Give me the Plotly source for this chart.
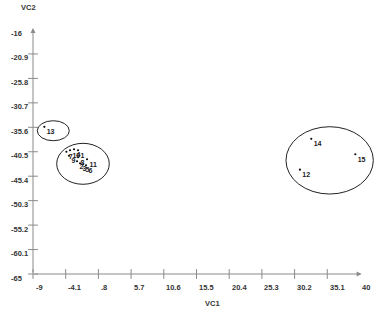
import plotly.graph_objects as go

# ---- data ----
point_labels = ["1", "2", "3", "4", "5", "6", "7", "8", "9", "10", "11", "12", "13", "14", "15"]
vc1 = [-2.25, -2.4, -1.95, -2.85, -1.5, -1.05, -4.0, -2.25, -3.6, -3.45, -0.9, 31.0, -7.3, 32.7, 39.3]
vc2 = [-40.2, -42.4, -42.8, -40.0, -43.0, -43.2, -40.5, -41.6, -41.3, -40.2, -42.0, -44.1, -35.5, -37.9, -41.0]

x_ticks = [-9, -4.1, 0.8, 5.7, 10.6, 15.5, 20.4, 25.3, 30.2, 35.1, 40]
x_tick_text = ["-9", "-4.1", ".8", "5.7", "10.6", "15.5", "20.4", "25.3", "30.2", "35.1", "40"]
y_ticks = [-16, -20.9, -25.8, -30.7, -35.6, -40.5, -45.4, -50.3, -55.2, -60.1, -65]
y_tick_text = ["-16", "-20.9", "-25.8", "-30.7", "-35.6", "-40.5", "-45.4", "-50.3", "-55.2", "-60.1", "-65"]

# cluster ellipses: (x0, x1, y0, y1)
ell_x0 = [-8.36, -5.45, 28.91]
ell_x1 = [-3.56, 2.43, 42.0]
ell_y0 = [-38.29, -47.02, -48.97]
ell_y1 = [-34.28, -38.81, -35.48]

FONT = "Liberation Sans, Arial, sans-serif"
TXT = "#333333"
AX = "#8a8a8a"

xmin, xmax = -9, 42.70
ymin, ymax = -65, -12.09

fig = go.Figure()

# tick marks crossing the axes
fig.add_trace(go.Scatter(x=x_ticks[:-1], y=[ymin] * (len(x_ticks) - 1), mode="markers",
                         marker=dict(symbol="line-ns-open", size=7, color=AX, line=dict(width=1, color=AX)),
                         hoverinfo="skip", showlegend=False, cliponaxis=False))
fig.add_trace(go.Scatter(x=[xmin] * (len(y_ticks) - 1), y=y_ticks[1:], mode="markers",
                         marker=dict(symbol="line-ew-open", size=7, color=AX, line=dict(width=1, color=AX)),
                         hoverinfo="skip", showlegend=False, cliponaxis=False))

# points
fig.add_trace(go.Scatter(x=vc1, y=vc2, mode="markers+text", text=point_labels,
                         textposition="bottom right",
                         textfont=dict(family=FONT, size=7, color="#222", weight="bold"),
                         marker=dict(size=2.2, color="#111"),
                         showlegend=False, cliponaxis=False))

shapes = []
for a, b, c, d in zip(ell_x0, ell_x1, ell_y0, ell_y1):
    shapes.append(dict(type="circle", xref="x", yref="y", x0=a, x1=b, y0=c, y1=d,
                       line=dict(color="#222", width=1)))

annotations = []
# axes with arrowheads
annotations.append(dict(x=x_ticks[-1] + 0.25, y=ymin, ax=xmin, ay=ymin, xref="x", yref="y",
                        axref="x", ayref="y", showarrow=True, arrowhead=2, arrowsize=1,
                        arrowwidth=1, arrowcolor=AX, text=""))
annotations.append(dict(x=xmin, y=y_ticks[0] + 0.3, ax=xmin, ay=ymin, xref="x", yref="y",
                        axref="x", ayref="y", showarrow=True, arrowhead=2, arrowsize=1,
                        arrowwidth=1, arrowcolor=AX, text=""))
# tick labels
for v, t in zip(x_ticks, x_tick_text):
    annotations.append(dict(x=v, y=ymin, xref="x", yref="y", text=t, showarrow=False,
                            xanchor="left", yanchor="middle", xshift=0.5, yshift=-13,
                            font=dict(family=FONT, size=7.5, color=TXT, weight="bold")))
for v, t in zip(y_ticks, y_tick_text):
    annotations.append(dict(x=-0.0696, y=v, xref="paper", yref="y", text=t, showarrow=False,
                            xanchor="left", yanchor="middle", yshift=-4,
                            font=dict(family=FONT, size=7.5, color=TXT, weight="bold")))
# axis titles
annotations.append(dict(x=(212 - 33) / 345, y=-0.11, xref="paper", yref="paper", text="VC1",
                        showarrow=False, xanchor="center", yanchor="middle",
                        font=dict(family=FONT, size=7.5, color=TXT, weight="bold")))
annotations.append(dict(x=-0.012, y=1.01, xref="paper", yref="paper", text="VC2",
                        showarrow=False, xanchor="center", yanchor="middle",
                        font=dict(family=FONT, size=7.5, color=TXT, weight="bold")))

fig.update_layout(
    width=380, height=309, autosize=False,
    margin=dict(l=33, r=2, t=10, b=35),
    paper_bgcolor="white", plot_bgcolor="white",
    xaxis=dict(range=[xmin, xmax], showgrid=False, zeroline=False, showline=False,
               showticklabels=False, ticks="", fixedrange=True),
    yaxis=dict(range=[ymin, ymax], showgrid=False, zeroline=False, showline=False,
               showticklabels=False, ticks="", fixedrange=True),
    shapes=shapes, annotations=annotations, showlegend=False,
)

fig.write_html("out.html", config={"displayModeBar": False},
               post_script="document.body.style.margin='0';document.body.style.overflow='hidden';")
